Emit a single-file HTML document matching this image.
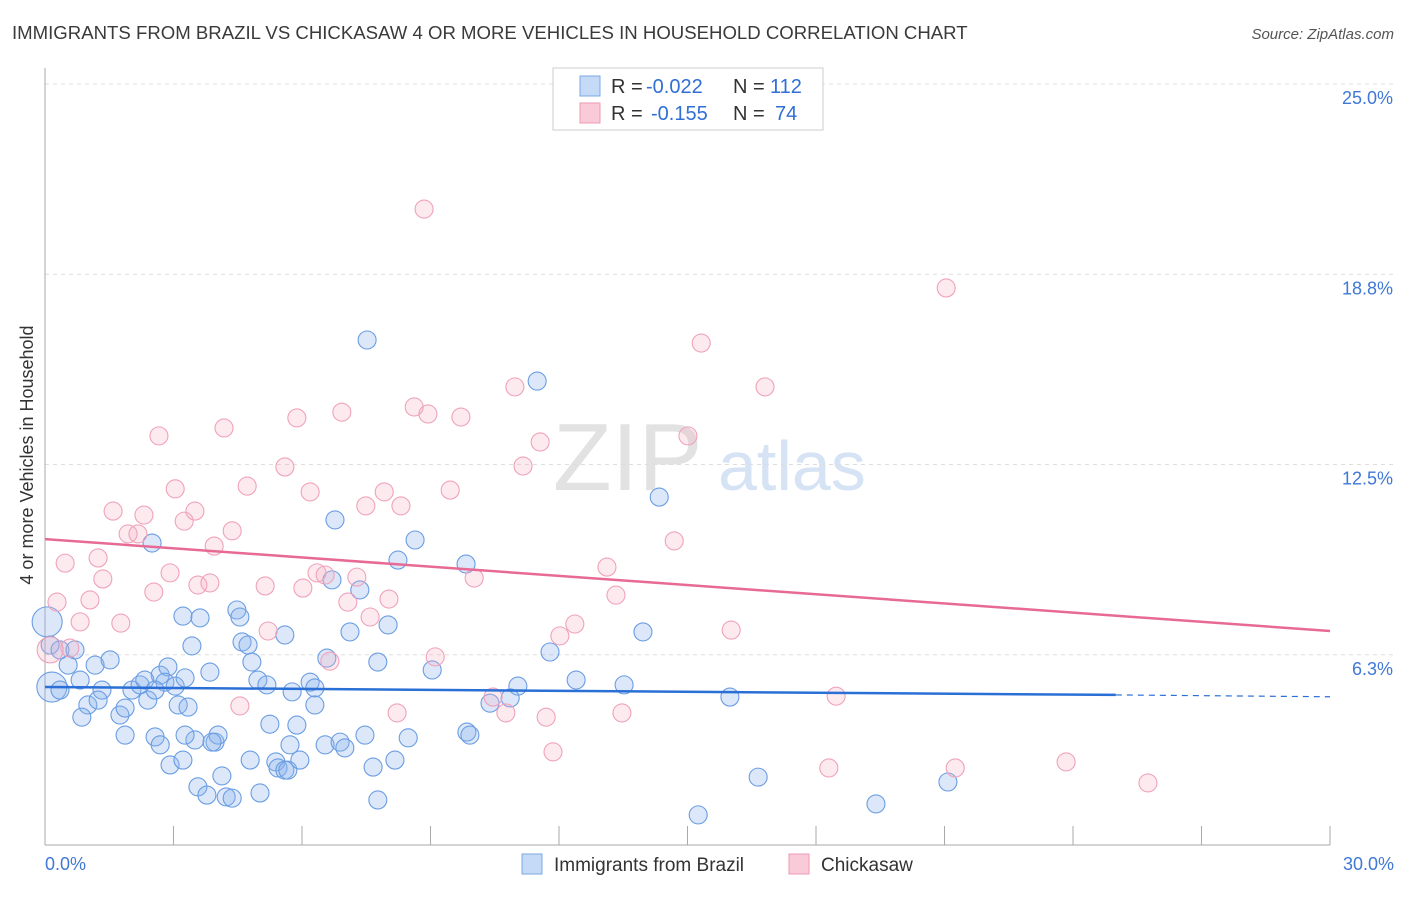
<!DOCTYPE html>
<html><head><meta charset="utf-8"><style>
body{margin:0;background:#fff;font-family:"Liberation Sans",sans-serif;}
svg text{font-family:"Liberation Sans",sans-serif;}
</style></head><body>
<svg id="chart" width="1406" height="892">
<text x="12" y="39" font-size="18.6" fill="#3a3a3a">IMMIGRANTS FROM BRAZIL VS CHICKASAW 4 OR MORE VEHICLES IN HOUSEHOLD CORRELATION CHART</text>
<text x="1394" y="39" font-size="15" fill="#555" font-style="italic" text-anchor="end">Source: ZipAtlas.com</text>
<text x="33" y="455" font-size="18" fill="#333" text-anchor="middle" transform="rotate(-90 33 455)">4 or more Vehicles in Household</text>
<text x="553" y="490" font-size="96" fill="#e2e2e2" font-family="Liberation Serif">ZIP</text>
<text x="718" y="490" font-size="70" fill="#d6e3f4">atlas</text>
<g id="grid"></g><g id="pts"></g><g id="lines"></g>
<g>
<rect x="553" y="68" width="270" height="62" fill="#fff" stroke="#ccc"/>
<rect x="580" y="76" width="20" height="20" fill="#c5daf6" stroke="#7aa7e6"/>
<rect x="580" y="103" width="20" height="20" fill="#f9cbd8" stroke="#ee9ab3"/>
<text x="611" y="93" font-size="20" fill="#333">R =</text>
<text x="646" y="93" font-size="20" fill="#2f6fd6">-0.022</text>
<text x="733" y="93" font-size="20" fill="#333">N =</text>
<text x="770" y="93" font-size="20" fill="#2f6fd6">112</text>
<text x="611" y="120" font-size="20" fill="#333">R =</text>
<text x="651" y="120" font-size="20" fill="#2f6fd6">-0.155</text>
<text x="733" y="120" font-size="20" fill="#333">N =</text>
<text x="775" y="120" font-size="20" fill="#2f6fd6">74</text>
</g>
<g>
<rect x="522" y="854" width="20" height="20" fill="#c5daf6" stroke="#7aa7e6"/>
<text x="554" y="871" font-size="19" fill="#333">Immigrants from Brazil</text>
<rect x="789" y="854" width="20" height="20" fill="#f9cbd8" stroke="#ee9ab3"/>
<text x="821" y="871" font-size="19" fill="#333">Chickasaw</text>
</g>
</svg>
<script>
const yTicks=[6.25,12.5,18.75,25];
const yTickLabels=["6.3%","12.5%","18.8%","25.0%"];
const xTicks=[0,3,6,9,12,15,18,21,24,27,30];
const brazilX=[0.16,0.05,0.12,0.35,0.70,0.54,0.82,1.17,1.52,1.00,0.86,1.33,1.24,1.75,1.87,2.03,2.22,2.40,2.69,2.87,2.80,3.04,3.11,3.34,3.27,3.43,3.22,3.62,3.85,2.50,4.48,4.55,4.60,4.74,4.83,4.97,5.18,5.60,5.77,6.19,6.30,6.30,6.58,6.77,6.70,7.12,7.35,7.77,8.01,8.64,8.24,9.04,9.83,9.85,9.92,10.39,11.04,10.86,11.49,11.79,12.40,13.52,13.96,14.34,15.99,16.65,19.40,21.08,15.25,7.52,2.57,2.69,2.92,3.22,3.50,3.57,3.78,3.97,4.04,4.13,4.23,4.37,4.79,5.02,5.25,5.39,5.44,5.60,5.72,5.67,5.88,5.95,6.54,6.89,7.00,7.47,7.66,7.77,8.17,8.48,1.87,3.27,3.90,2.33,2.57,0.35];
const brazilY=[5.19,7.33,6.57,6.41,6.41,5.91,5.42,5.91,6.08,4.60,4.20,5.09,4.76,4.27,4.50,5.09,5.26,4.76,5.58,5.85,5.35,5.22,4.60,4.53,5.49,6.54,7.52,7.46,5.68,9.92,7.72,7.49,6.67,6.57,6.01,5.42,5.26,6.90,5.03,5.35,5.16,4.60,6.14,10.68,8.71,7.00,8.38,6.01,7.23,10.02,9.36,5.75,9.23,3.71,3.61,4.66,5.22,4.83,15.24,6.34,5.42,5.26,7.00,11.43,4.86,2.23,1.35,2.07,0.99,16.59,3.55,3.29,2.63,2.79,3.45,1.91,1.64,3.38,3.61,2.27,1.58,1.54,2.79,1.71,3.97,2.73,2.53,2.46,3.29,2.46,3.94,2.79,3.29,3.38,3.19,3.61,2.56,1.48,2.79,3.52,3.61,3.61,3.38,5.42,5.09,5.09];
const chickX=[8.85,21.04,15.32,16.81,10.97,8.62,8.94,9.71,6.93,5.88,4.18,2.66,11.56,15.01,11.16,5.60,3.04,4.72,6.19,7.92,9.46,1.59,2.31,3.50,3.25,1.94,2.17,4.37,7.49,8.31,14.69,3.95,0.47,1.24,1.35,2.92,3.57,3.85,5.14,6.02,6.35,6.54,7.28,10.02,13.12,13.33,1.05,1.77,2.54,7.07,8.03,0.28,0.82,7.59,5.21,12.37,12.02,16.02,9.11,0.58,0.12,6.65,4.55,8.22,10.76,11.70,13.47,10.46,18.47,11.86,18.30,21.25,23.84,25.75];
const chickY=[20.89,18.30,16.49,15.05,15.05,14.39,14.16,14.06,14.22,14.03,13.70,13.44,13.24,13.44,12.45,12.42,11.70,11.79,11.60,11.60,11.66,10.97,10.84,10.97,10.64,10.22,10.22,10.32,11.14,11.14,9.99,9.82,9.26,9.43,8.74,8.94,8.54,8.61,8.51,8.44,8.94,8.87,8.80,8.77,9.13,8.21,8.05,7.29,8.31,7.98,8.08,7.98,7.33,7.49,7.03,7.26,6.87,7.06,6.18,6.47,6.41,6.04,4.57,4.34,4.34,4.20,4.34,4.86,4.89,3.06,2.53,2.53,2.73,2.04];
const brazilTrend=[5.19,4.93,4.87];
const chickTrend=[10.05,7.03];
const NS='http://www.w3.org/2000/svg';
const X0=45,X1=1330,YB=845,YT=84;
const sx=v=>X0+(v/30)*(X1-X0);
const sy=v=>YB-(v/25)*(YB-YT);
function mk(t,a,p){const e=document.createElementNS(NS,t);for(const k in a)e.setAttribute(k,a[k]);p.appendChild(e);return e;}
const g=document.getElementById('grid');
yTicks.forEach((v,i)=>{
 const l=mk('line',{x1:X0,x2:1395,y1:sy(v),y2:sy(v),stroke:'#ddd','stroke-dasharray':'4,4'},g);
 
 
 const t=mk('text',{x:1393,y:sy(v)+20,'font-size':18,fill:'#3f78d6','text-anchor':'end'},g);
 t.textContent=yTickLabels[i];
 
 
});
mk('line',{x1:X0,x2:X0,y1:68,y2:YB,stroke:'#aaa'},g);
mk('line',{x1:X0,x2:X1,y1:YB,y2:YB,stroke:'#aaa'},g);
xTicks.forEach(v=>{const l=mk('line',{x1:sx(v),x2:sx(v),y1:826,y2:YB,stroke:'#aaa'},g);
 
 });
const t0=mk('text',{x:45,y:870,'font-size':18,fill:'#3f78d6'},g);t0.textContent='0.0%';


const t1=mk('text',{x:1394,y:870,'font-size':18,fill:'#3f78d6','text-anchor':'end'},g);t1.textContent='30.0%';


const P=document.getElementById('pts');
brazilX.forEach((x,i)=>{const r=i<2?15:9;
 const c=mk('circle',{cx:sx(x),cy:sy(brazilY[i]),r:r,fill:'rgba(140,180,235,0.3)',stroke:'#6a9de3','stroke-width':1.1},P);
 
 });
chickX.forEach((x,i)=>{const r=(x<0.2&&chickY[i]<7)?13:9;
 const c=mk('circle',{cx:sx(x),cy:sy(chickY[i]),r:r,fill:'rgba(245,170,192,0.25)',stroke:'#f0a2bb','stroke-width':1.1},P);
 
 });
const L=document.getElementById('lines');
const b1=mk('line',{x1:sx(0),y1:sy(brazilTrend[0]),x2:sx(25),y2:sy(brazilTrend[1]),stroke:'#2a6fd6','stroke-width':2.5},L);


const b2=mk('line',{x1:sx(25),y1:sy(brazilTrend[1]),x2:sx(30),y2:sy(brazilTrend[2]),stroke:'#2a6fd6','stroke-width':1.2,'stroke-dasharray':'6,5'},L);


const p1=mk('line',{x1:sx(0),y1:sy(chickTrend[0]),x2:sx(30),y2:sy(chickTrend[1]),stroke:'#e76a95','stroke-width':2.5},L);


</script>
</body></html>
